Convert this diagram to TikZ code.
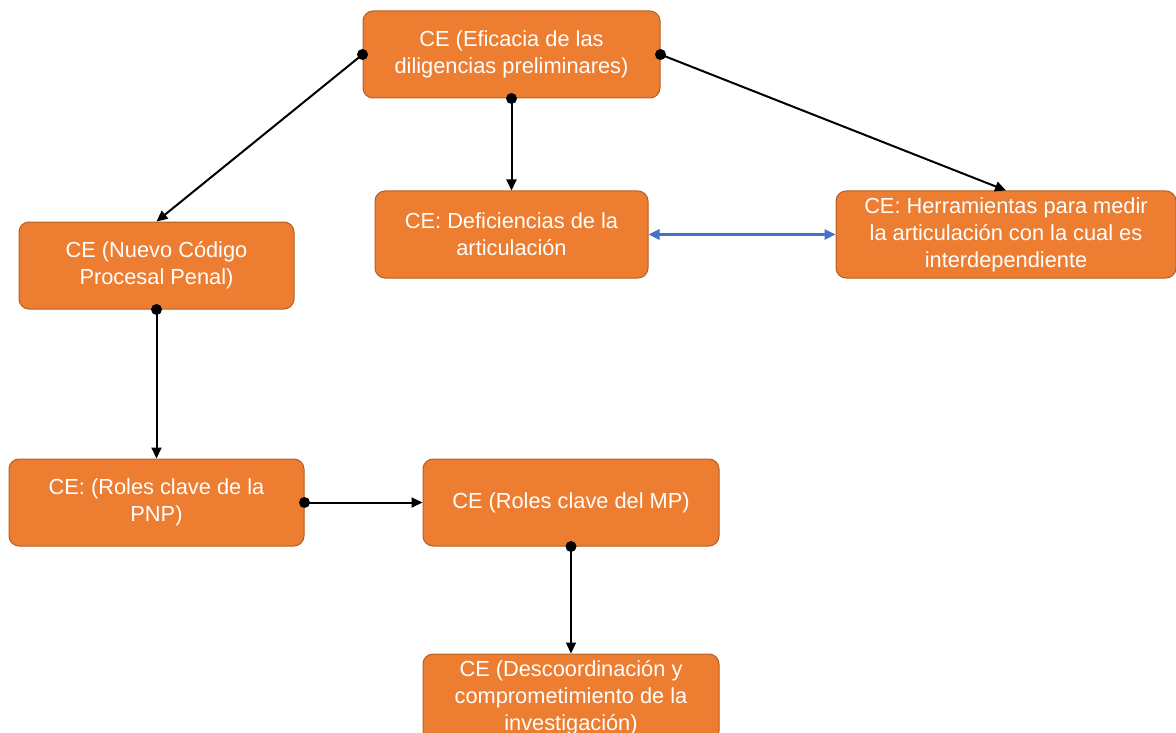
\documentclass[tikz,border=0pt]{standalone}
\usepackage{fontspec}
\setmainfont{Liberation Sans}
\usetikzlibrary{arrows.meta}
\definecolor{boxfill}{HTML}{ED7D31}
\definecolor{boxline}{HTML}{B45F25}
\definecolor{linkblue}{HTML}{4472C4}
\tikzset{
  cebox/.style={draw=boxline, line width=1pt, fill=boxfill, rounded corners=10pt,
    text=white, align=center, inner sep=0pt, minimum height=87pt,
    font=\fontsize{21.8}{27}\selectfont},
  link/.style={draw=black, line width=2pt, -{Triangle[length=11pt,width=10pt]}},
  dot/.style={fill=black},
  bilink/.style={draw=linkblue, line width=2.6pt, {Triangle[length=11pt,width=10pt]}-{Triangle[length=11pt,width=10pt]}}
}
\begin{document}
\begin{tikzpicture}[x=1pt,y=-1pt]
\useasboundingbox (0,0) rectangle (1176,733);
\clip (0,0) rectangle (1176,733);
\node[cebox, minimum width=297pt] (n1) at (511.5,54.5) {CE (Eficacia de las\\diligencias preliminares)};
\node[cebox, minimum width=275pt] (n2) at (156.5,265.5) {CE (Nuevo Código\\Procesal Penal)};
\node[cebox, minimum width=273pt] (n3) at (511.5,234.5) {CE: Deficiencias de la\\articulación};
\node[cebox, minimum width=340pt] (n4) at (1006,234.5) {CE: Herramientas para medir\\la articulación con la cual es\\interdependiente};
\node[cebox, minimum width=295pt] (n5) at (156.5,502.5) {CE: (Roles clave de la\\PNP)};
\node[cebox, minimum width=296pt] (n6) at (571,502.5) {CE (Roles clave del MP)};
\node[cebox, minimum width=296pt] (n7) at (571,697.5) {CE (Descoordinación y\\comprometimiento de la\\investigación)};
\draw[link] (n1.west) -- (n2.north);
\draw[link] (n1.south) -- (n3.north);
\draw[link] (n1.east) -- (n4.north);
\draw[link] (n2.south) -- (n5.north);
\draw[link] (n5.east) -- (n6.west);
\draw[link] (n6.south) -- (n7.north);
\draw[bilink] (n3.east) -- (n4.west);
\foreach \p in {n1.west,n1.south,n1.east,n2.south,n5.east,n6.south}
  \fill[dot] (\p) circle (5.5pt);
\end{tikzpicture}
\end{document}
